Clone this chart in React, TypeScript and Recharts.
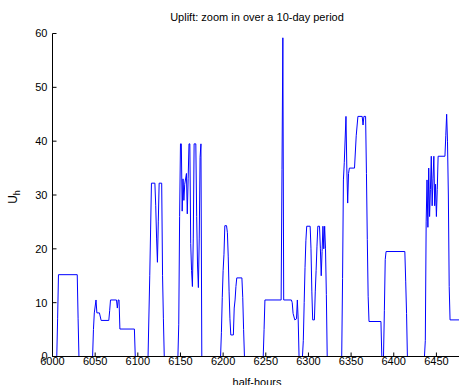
import { Line, LineChart, XAxis, YAxis } from "recharts";

// breakpoints of the half-hourly uplift series (flat runs collapsed to their ends)
const halfHours = [
  6000,
  6005, 6006, 6007, 6029, 6030, 6031,
  6047, 6048, 6049, 6051, 6052, 6055, 6057, 6066, 6067, 6068, 6075, 6076, 6077, 6078, 6079, 6096, 6097,
  6112, 6114, 6115, 6116, 6120, 6121, 6122, 6123, 6124, 6125, 6128, 6129, 6130, 6131,
  6147, 6148, 6149, 6150, 6151, 6152, 6153, 6154, 6155, 6157, 6158, 6159, 6160, 6161, 6162, 6163, 6164,
  6165, 6166, 6168, 6169, 6170, 6171, 6172, 6173, 6174, 6175,
  6197, 6198, 6199, 6200, 6201, 6202, 6204, 6205, 6206, 6207, 6208, 6209, 6212, 6213, 6214, 6215, 6216,
  6222, 6223, 6224, 6225,
  6247, 6248, 6249, 6268, 6269, 6270, 6271, 6280, 6281, 6282, 6284, 6286, 6287, 6288, 6289,
  6293, 6294, 6295, 6296, 6297, 6298, 6302, 6303, 6304, 6305, 6307, 6308, 6309, 6310, 6311, 6313, 6314,
  6315, 6316, 6317, 6318, 6319, 6320, 6321, 6322,
  6339, 6340, 6341, 6342, 6344, 6345, 6346, 6347, 6348, 6354, 6356, 6358, 6363, 6364, 6365, 6367, 6368,
  6369, 6370, 6371, 6385, 6386,
  6388, 6389, 6390, 6391, 6413, 6414, 6415, 6416,
  6436, 6437, 6438, 6439, 6440, 6441, 6442, 6443, 6444, 6445, 6446, 6447, 6448, 6449, 6450, 6451, 6452,
  6460, 6461, 6462, 6463, 6464, 6465, 6466, 6480,
];

const upliftValues = [
  0,
  0, 7, 15.2, 15.2, 7, 0,
  0, 5, 8.1, 10.5, 8.1, 8.1, 6.7, 6.7, 8.5, 10.5, 10.5, 9, 10.5, 10.5, 5.1, 5.1, 0,
  0, 15, 23.5, 32.2, 32.2, 28, 22, 17.5, 25, 32.2, 32.2, 15, 7, 0,
  0, 6, 26, 39.5, 39.5, 27, 33, 29, 32, 34, 26.5, 33, 39.5, 39.5, 21, 16, 13,
  22, 39.5, 39.5, 26, 17, 12.8, 22, 37, 39.5, 0,
  0, 4.5, 11, 16, 19, 24.3, 24.3, 23, 18.5, 12, 7, 4, 4, 9, 10.5, 13, 14.6,
  14.6, 11, 5, 0,
  0, 5, 10.5, 10.5, 34.7, 59.2, 10.5, 10.5, 10, 8, 6.8, 7, 10.5, 6.8, 0,
  0, 3, 10, 16.5, 21.5, 24.2, 24.2, 20, 12, 6.8, 6.8, 12, 16, 20.5, 24.2, 24.2, 20,
  15, 19.5, 24.2, 20, 24.2, 20, 11.5, 0,
  0, 14.5, 32.8, 36, 44.6, 35, 28.5, 34, 35, 35, 41, 44.6, 44.6, 43, 44.6, 44.6, 34,
  21.7, 11.2, 6.5, 6.5, 0,
  0, 8.5, 18, 19.5, 19.5, 14, 8, 0,
  0, 3, 25, 32.8, 24, 35, 26, 31, 37.2, 28, 33, 37.2, 28, 32, 26, 31, 37.2,
  37.2, 41, 45, 40, 30, 13, 6.8, 6.8,
];

const xTicks = [6000, 6050, 6100, 6150, 6200, 6250, 6300, 6350, 6400, 6450];
const yTicks = [0, 10, 20, 30, 40, 50, 60];

const data = halfHours.map((t, i) => ({ t, u: upliftValues[i] }));

const FONT = "'Liberation Sans', Arial, Helvetica, sans-serif";
const tickStyle = { fill: "#000", fontSize: 11, fontFamily: FONT };

export default function App() {
  return (
    <div
      style={{
        position: "fixed",
        left: 0,
        top: 0,
        width: 459,
        height: 385,
        overflow: "hidden",
        background: "#fff",
        fontFamily: FONT,
      }}
    >
      <div
        style={{
          position: "absolute",
          left: 52,
          width: 410,
          top: 11,
          textAlign: "center",
          fontSize: 11,
          lineHeight: "13px",
          color: "#000",
        }}
      >
        Uplift: zoom in over a 10-day period
      </div>
      <div
        style={{
          position: "absolute",
          left: 15,
          top: 197,
          transform: "translate(-50%, -50%) rotate(-90deg)",
          fontSize: 12,
          lineHeight: "14px",
          whiteSpace: "nowrap",
          color: "#000",
        }}
      >
        U<sub style={{ fontSize: 9 }}>h</sub>
      </div>
      <div
        style={{
          position: "absolute",
          left: 52,
          width: 410,
          top: 376,
          textAlign: "center",
          fontSize: 11,
          lineHeight: "13px",
          color: "#000",
        }}
      >
        half-hours
      </div>
      <LineChart
        width={470}
        height={385}
        data={data}
        margin={{ top: 33.5, right: 0, bottom: 0, left: 0 }}
      >
        <XAxis
          xAxisId="bottom"
          dataKey="t"
          type="number"
          domain={[6000, 6480]}
          ticks={xTicks}
          allowDataOverflow
          height={28.5}
          tickSize={-4}
          tickMargin={5}
          stroke="#000"
          tick={tickStyle}
        />
        <XAxis
          xAxisId="top"
          orientation="top"
          dataKey="t"
          type="number"
          domain={[6000, 6480]}
          ticks={xTicks}
          allowDataOverflow
          height={0}
          tickSize={-4}
          stroke="#000"
          tick={() => <g />}
        />
        <YAxis
          yAxisId="left"
          type="number"
          domain={[0, 60]}
          ticks={yTicks}
          width={52.5}
          tickSize={-4}
          tickMargin={9}
          stroke="#000"
          tick={tickStyle}
        />
        <YAxis
          yAxisId="right"
          orientation="right"
          type="number"
          domain={[0, 60]}
          ticks={yTicks}
          width={8}
          tickSize={-4}
          stroke="#000"
          tick={() => <g />}
        />
        <Line
          xAxisId="bottom"
          yAxisId="left"
          type="linear"
          dataKey="u"
          stroke="#0000ff"
          strokeWidth={1}
          dot={false}
          isAnimationActive={false}
        />
      </LineChart>
    </div>
  );
}
